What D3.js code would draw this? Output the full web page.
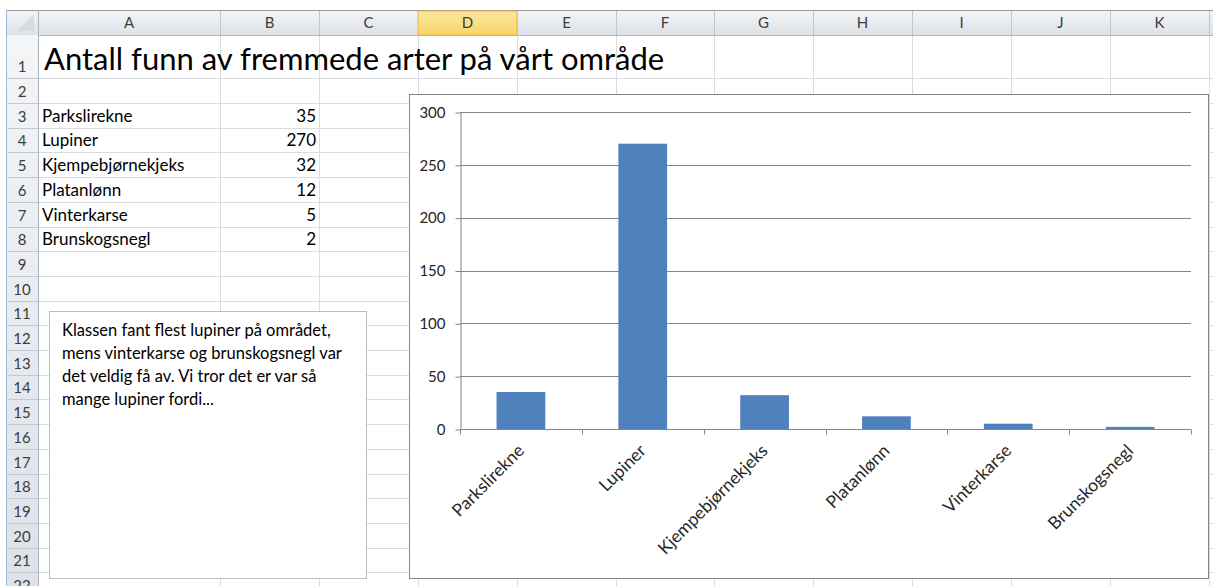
<!DOCTYPE html>
<html>
<head>
<meta charset="utf-8">
<script src="https://cdn.jsdelivr.net/npm/d3@7"></script>
<style>
  body { margin: 0; background: #fff; }
  text { font-family: Lato, "Noto Sans", sans-serif; }
</style>
</head>
<body>
<svg width="1213" height="586"></svg>
<script>
// data
const categories = ['Parkslirekne', 'Lupiner', 'Kjempebjørnekjeks', 'Platanlønn', 'Vinterkarse', 'Brunskogsnegl'];
const values = [35, 270, 32, 12, 5, 2];
const yTicks = [0, 50, 100, 150, 200, 250, 300];
const colLetters = ['A', 'B', 'C', 'D', 'E', 'F', 'G', 'H', 'I', 'J', 'K'];
const title = 'Antall funn av fremmede arter på vårt område';
const noteLines = [
  'Klassen fant flest lupiner på området,',
  'mens vinterkarse og brunskogsnegl var',
  'det veldig få av. Vi tror det er var så',
  'mange lupiner fordi...'
];

const svg = d3.select('svg');
const W = +svg.attr('width');
const H = +svg.attr('height');

/* spreadsheet grid */
const colEdges = [38, 220, 319, 418, 517, 616, 714, 813, 912, 1011, 1110, 1209];
const rowEdges = [35, 78, 103];
for (let i = 0; i < 21; i++) rowEdges.push(103 + (i + 1) * 24.7);

const defs = svg.append('defs');
const hg = defs.append('linearGradient').attr('id', 'hdr').attr('x1', 0).attr('x2', 0).attr('y1', 0).attr('y2', 1);
hg.append('stop').attr('offset', 0).attr('stop-color', '#f3f5f7');
hg.append('stop').attr('offset', 1).attr('stop-color', '#dde2e8');
const sg = defs.append('linearGradient').attr('id', 'sel').attr('x1', 0).attr('x2', 0).attr('y1', 0).attr('y2', 1);
sg.append('stop').attr('offset', 0).attr('stop-color', '#fbe7a3');
sg.append('stop').attr('offset', 1).attr('stop-color', '#f8d56a');

// cell gridlines
const grid = svg.append('g').attr('stroke', '#dadcdd').attr('stroke-width', 1);
colEdges.forEach(x => grid.append('line').attr('x1', x + 0.5).attr('x2', x + 0.5).attr('y1', 35).attr('y2', H));
rowEdges.slice(1).forEach(y => grid.append('line').attr('x1', 38).attr('x2', W).attr('y1', Math.round(y) + 0.5).attr('y2', Math.round(y) + 0.5));

// column headers
svg.append('rect').attr('x', 6).attr('y', 10).attr('width', W - 6).attr('height', 25).attr('fill', 'url(#hdr)');
svg.append('line').attr('x1', 6).attr('x2', W).attr('y1', 10.5).attr('y2', 10.5).attr('stroke', '#9a9a9a');
svg.append('line').attr('x1', 6).attr('x2', W).attr('y1', 35.5).attr('y2', 35.5).attr('stroke', '#b0b7c0');
colLetters.forEach((c, i) => {
  const x0 = colEdges[i], x1 = colEdges[i + 1];
  if (c === 'D') {
    svg.append('rect').attr('x', x0).attr('y', 11).attr('width', x1 - x0).attr('height', 24)
      .attr('fill', 'url(#sel)').attr('stroke', '#f2b33d');
  }
  svg.append('line').attr('x1', x1 + 0.5).attr('x2', x1 + 0.5).attr('y1', 11).attr('y2', 35).attr('stroke', '#c3c8ce');
  svg.append('text').attr('x', (x0 + x1) / 2).attr('y', 28).attr('text-anchor', 'middle')
    .attr('font-size', 15).attr('fill', '#3c3c3c').text(c);
});

// row headers
svg.append('rect').attr('x', 6).attr('y', 35).attr('width', 32).attr('height', H - 35).attr('fill', 'url(#hdr)');
svg.append('line').attr('x1', 6.5).attr('x2', 6.5).attr('y1', 10).attr('y2', H).attr('stroke', '#9cb9dc');
svg.append('line').attr('x1', 38.5).attr('x2', 38.5).attr('y1', 10).attr('y2', H).attr('stroke', '#a9b3bf');
// corner
svg.append('path').attr('d', 'M34,14 L34,31 L17,31 Z').attr('fill', '#d7dbe0');
for (let i = 0; i < rowEdges.length - 1; i++) {
  const y1 = rowEdges[i + 1];
  svg.append('line').attr('x1', 6).attr('x2', 38).attr('y1', Math.round(y1) + 0.5).attr('y2', Math.round(y1) + 0.5).attr('stroke', '#c3c8ce');
  svg.append('text').attr('x', 22).attr('y', y1 - 6).attr('text-anchor', 'middle')
    .attr('font-size', 15).attr('fill', '#3c3c3c').text(i + 1);
}

// title cell
svg.append('text').attr('x', 44).attr('y', 70).attr('font-size', 31).attr('fill', '#000').text(title);

// data cells
categories.forEach((c, i) => {
  const y1 = rowEdges[i + 3];
  svg.append('text').attr('x', 42).attr('y', y1 - 6).attr('font-size', 17).attr('fill', '#000').text(c);
  svg.append('text').attr('x', 316).attr('y', y1 - 6).attr('text-anchor', 'end').attr('font-size', 17).attr('fill', '#000').text(values[i]);
});

// text box
svg.append('rect').attr('x', 49.5).attr('y', 311.5).attr('width', 317).attr('height', 267)
  .attr('fill', '#fff').attr('stroke', '#bdbdbd');
noteLines.forEach((t, i) => {
  svg.append('text').attr('x', 62).attr('y', 336 + i * 23).attr('font-size', 16.5).attr('fill', '#000').text(t);
});

/* chart */
svg.append('rect').attr('x', 409.5).attr('y', 94.5).attr('width', 799).attr('height', 484)
  .attr('fill', '#fff').attr('stroke', '#868686');

const x = d3.scaleBand().domain(categories).range([460, 1191]).paddingInner(0.6).paddingOuter(0.3);
const y = d3.scaleLinear().domain([0, 300]).range([429, 112]);

// gridlines
svg.append('g').selectAll('line').data(yTicks.slice(1)).join('line')
  .attr('x1', 460).attr('x2', 1191)
  .attr('y1', d => Math.round(y(d)) + 0.5).attr('y2', d => Math.round(y(d)) + 0.5)
  .attr('stroke', '#868686');

// y axis
const yAxis = svg.append('g').attr('transform', 'translate(460.5,0.5)')
  .call(d3.axisLeft(y).tickValues(yTicks).tickSize(5).tickSizeOuter(0).tickPadding(10));
yAxis.select('.domain').attr('stroke', '#868686');
yAxis.selectAll('.tick line').attr('stroke', '#868686');
yAxis.selectAll('.tick text').attr('font-size', 15).attr('fill', '#262626').style('font-family', 'Lato, sans-serif');

// bars
svg.append('g').selectAll('rect').data(values).join('rect')
  .attr('x', (d, i) => x(categories[i]))
  .attr('y', d => y(d))
  .attr('width', x.bandwidth())
  .attr('height', d => y(0) - y(d))
  .attr('fill', '#4f81bd');

// x axis
const xAxis = svg.append('g').attr('transform', 'translate(0,429.5)');
xAxis.append('line').attr('x1', 460).attr('x2', 1191).attr('stroke', '#868686');
const edges = d3.range(categories.length + 1).map(i => 460 + i * x.step());
xAxis.selectAll('.xt').data(edges).join('line').attr('class', 'xt')
  .attr('x1', d => Math.round(d) + 0.5).attr('x2', d => Math.round(d) + 0.5)
  .attr('y1', 0).attr('y2', 5).attr('stroke', '#868686');
xAxis.selectAll('.xl').data(categories).join('text').attr('class', 'xl')
  .attr('transform', d => `translate(${x(d) + x.bandwidth() / 2},${18}) rotate(-45)`)
  .attr('text-anchor', 'end').attr('dy', '0.35em')
  .attr('font-size', 17.5).attr('fill', '#262626').text(d => d);
</script>
</body>
</html>
